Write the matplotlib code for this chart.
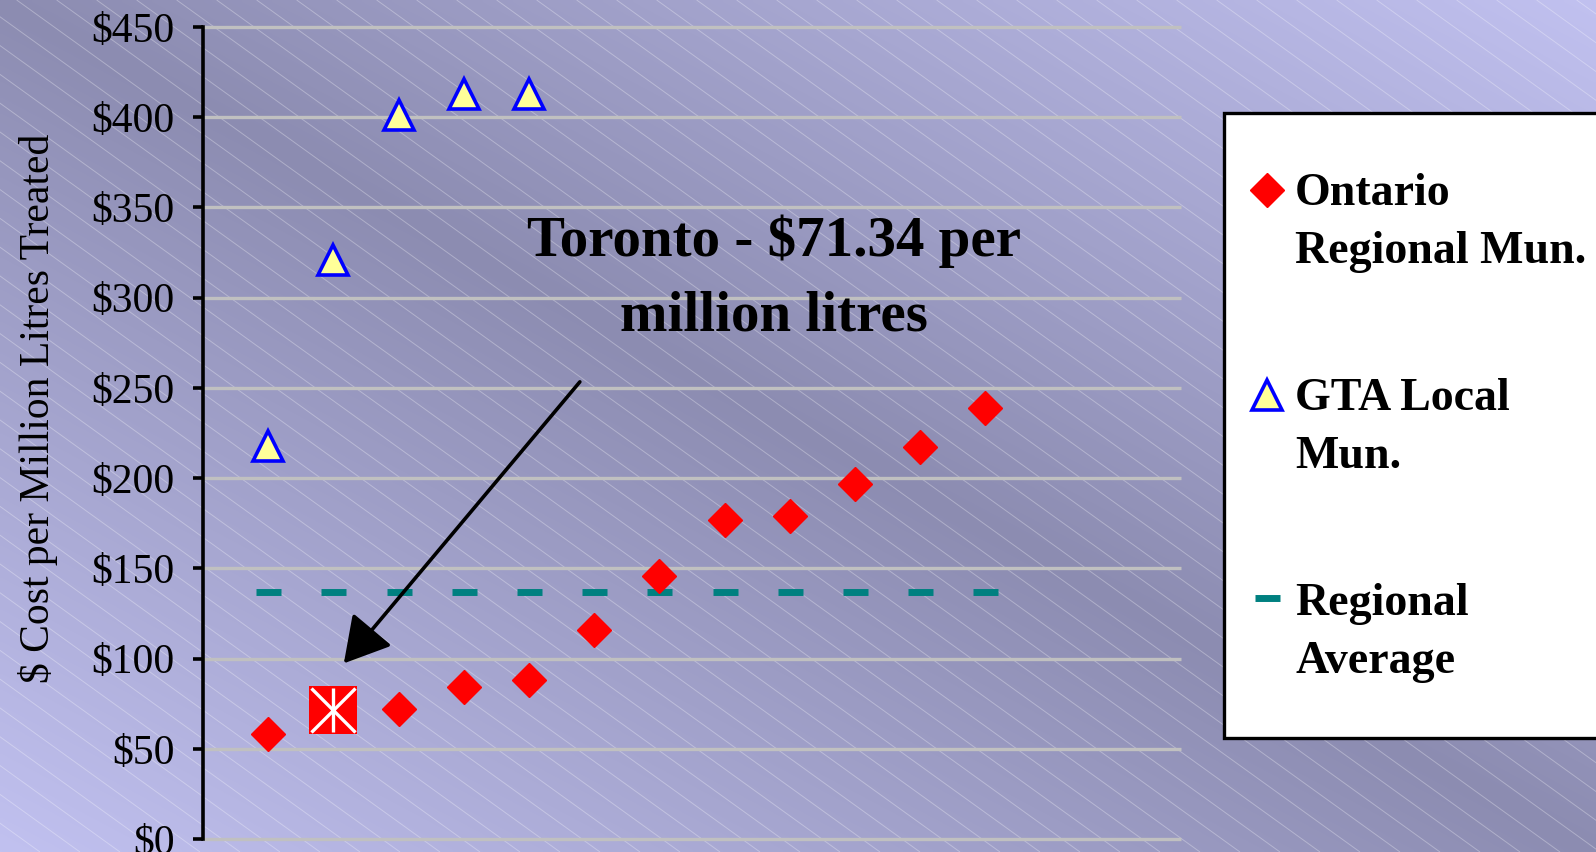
import numpy as np
import matplotlib
matplotlib.use("Agg")
import matplotlib.pyplot as plt
from matplotlib.patches import Rectangle
from matplotlib.collections import LineCollection

# $ cost per million litres treated, municipalities sorted by cost
ontario_x = [1, 3, 4, 5, 6, 7, 8, 9, 10, 11, 12]
ontario_cost = [58, 72, 84, 88, 116, 146, 177, 179, 197, 217, 239]
gta_x = [1, 2, 3, 4, 5]
gta_cost = [218, 321, 401, 413, 413]
toronto_x = 2
toronto_cost = 71.34
avg_x = [1, 2, 3, 4, 5, 6, 7, 8, 9, 10, 11, 12]
regional_avg = 137
y_ticks = [0, 50, 100, 150, 200, 250, 300, 350, 400, 450]

SERIF = "Liberation Serif"
W, H = 1596, 852
fig = plt.figure(figsize=(W / 100, H / 100), dpi=100)

# slide background: diagonal gradient with thin white hatching
bg = fig.add_axes([0, 0, 1, 1], zorder=0)
bg.set_xlim(0, W)
bg.set_ylim(H, 0)
bg.axis("off")
xx, yy = np.meshgrid(np.linspace(0, 1, 400), np.linspace(0, 1, 220))
t = np.abs(xx + (1 - yy) - 1)
light = np.array([193, 193, 240]) / 255
dark = np.array([140, 140, 177]) / 255
bg.imshow(dark + (light - dark) * t[..., None], extent=[0, W, H, 0],
          aspect="auto", interpolation="bilinear")
slope = 0.72
segs = [[(x0, 0), (x0 + H / slope, H)] for x0 in np.arange(-H / slope, W + 40, 40)]
bg.add_collection(LineCollection(segs, colors="white", linewidths=0.7, alpha=0.3))

# main plot
ax = fig.add_axes([203 / W, 13 / H, (1181 - 203) / W, (839 - 27) / H], zorder=1)
ax.patch.set_alpha(0)
ax.set_xlim(0, 15)
ax.set_ylim(0, 450)
ax.hlines(y_ticks, 0, 15, colors="#C0C0C0", lw=2.4, zorder=1, clip_on=False)
for side in ["top", "right", "bottom"]:
    ax.spines[side].set_visible(False)
ax.spines["left"].set_linewidth(2.6)
ax.spines["left"].set_zorder(2)
ax.set_xticks([])
ax.set_yticks(y_ticks)
ax.set_yticklabels([f"${v}" for v in y_ticks], fontsize=30, family=SERIF)
ax.tick_params(axis="y", length=7.5, width=2.6, pad=13)
ax.set_ylabel("$ Cost per Million Litres Treated", fontsize=30, family=SERIF)
ax.yaxis.set_label_coords(-0.148, 0.531)

ax.plot(avg_x, [regional_avg] * len(avg_x), ls="none", marker="_", ms=18, mew=5,
        color="#008080", zorder=3)
ax.plot(ontario_x, ontario_cost, ls="none", marker="D", ms=17.5, color="red",
        mec="red", zorder=4)
ax.plot(gta_x, gta_cost, ls="none", marker="^", ms=21, mfc="#FFFF99", mec="blue",
        mew=2.6, zorder=4)
ax.plot([toronto_x], [toronto_cost], ls="none", marker="s", ms=35, color="red",
        mew=0, zorder=5)
for m in ["x", "|"]:
    ax.plot([toronto_x], [toronto_cost], ls="none", marker=m, ms=31, mec="white",
            mew=2.4, zorder=6)

# callout for Toronto
ax.annotate("", xy=(toronto_x + 0.16, toronto_cost + 26),
            xytext=(toronto_x + 3.78, toronto_cost + 182),
            arrowprops=dict(arrowstyle="-|>,head_length=28,head_width=16",
                            mutation_scale=1, lw=2.6, color="black",
                            shrinkA=0, shrinkB=0), zorder=7)
ax.text(8.76, 323, "Toronto - $71.34 per", ha="center", va="baseline",
        fontsize=41, fontweight="bold", family=SERIF)
ax.text(8.76, 282, "million litres", ha="center", va="baseline",
        fontsize=41, fontweight="bold", family=SERIF)

# legend box, runs off the right edge
ov = fig.add_axes([0, 0, 1, 1], zorder=3)
ov.set_xlim(0, W)
ov.set_ylim(H, 0)
ov.axis("off")
ov.add_patch(Rectangle((1224, 113), 500, 625, fc="white", ec="black", lw=2.4))
ov.plot([1267], [190], marker="D", ms=17.5, color="red", ls="none")
ov.plot([1267], [395], marker="^", ms=21, mfc="#FFFF99", mec="blue", mew=2.6, ls="none")
ov.plot([1267], [598], marker="_", ms=18, mew=5, color="#008080", ls="none")
entries = [("Ontario", "Regional Mun."), ("GTA Local", "Mun."), ("Regional", "Average")]
for i, (l1, l2) in enumerate(entries):
    base = 205 + 205 * i
    ov.text(1295, base, l1, fontsize=33, fontweight="bold", family=SERIF, va="baseline")
    ov.text(1295, base + 58, l2, fontsize=33, fontweight="bold", family=SERIF, va="baseline")

fig.savefig("out.png", dpi=100)
